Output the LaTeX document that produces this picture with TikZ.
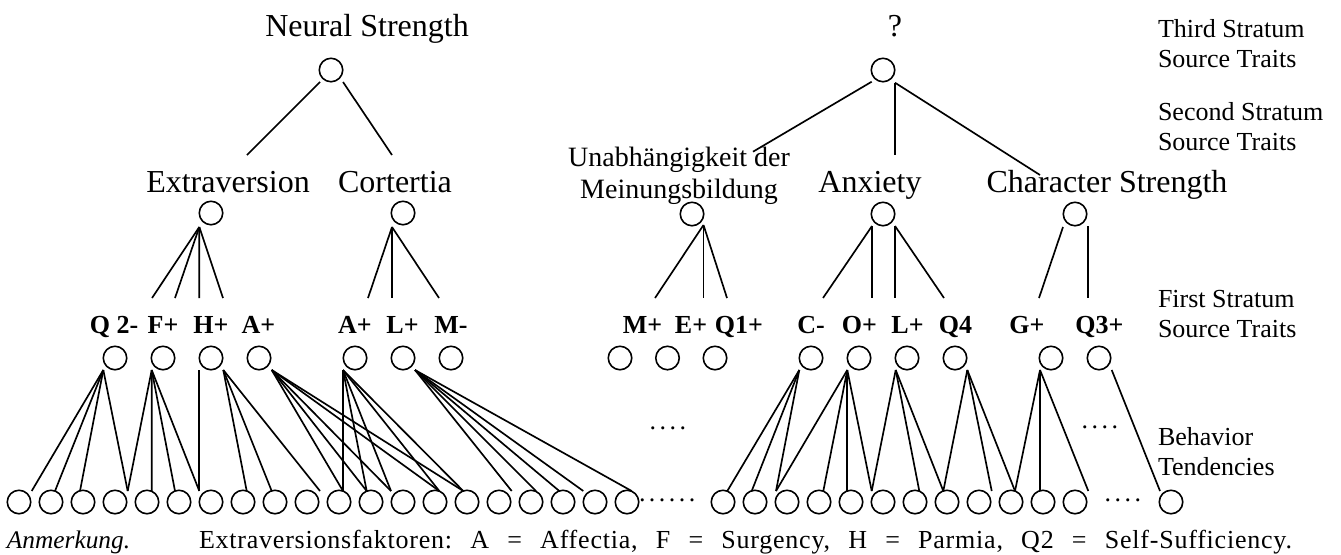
\documentclass[tikz,border=0pt]{standalone}
\usepackage{fontspec}
\setmainfont{Liberation Serif}
\newfontfamily\notefont[LetterSpace=3]{Liberation Serif}
\usetikzlibrary{calc}
% gap between the dots of an ellipsis row
\newcommand\dotgap{\kern2.6pt}
% draw lines from a foot point to behaviour circles: list of index/x-offset
\newcommand\fan[2]{\foreach \k/\dx in {#2}{\draw[link] (#1) -- ($(b\k)+(\dx,-11)$);}}
\begin{document}
\begin{tikzpicture}[x=0.75pt,y=-0.75pt,
  every node/.style={inner sep=0pt,outer sep=0pt},
  trait/.style={circle,draw,line width=1.2pt,minimum size=17.6pt},
  link/.style={line width=1.25pt},
  bigtxt/.style={font=\fontsize{24}{27}\selectfont,anchor=base},
  midtxt/.style={font=\fontsize{21}{23.8}\selectfont,align=center,anchor=base},
  sidetxt/.style={font=\fontsize{19.5}{22.4}\selectfont,align=left,anchor=base west},
  factxt/.style={font=\fontsize{19.5}{22}\selectfont\bfseries,anchor=base},
  dottxt/.style={font=\fontsize{19.5}{22}\selectfont,anchor=base west},
]
\useasboundingbox (0,0) rectangle (1341,554);

% ---------- third stratum ----------
\node[trait] (ns) at (331,70) {};
\node[bigtxt] (nsl) at (367,36) {Neural Strength};
\node[trait] (top) at (883,70) {};
\node[bigtxt] (topl) at (895,36) {?};

% ---------- second stratum ----------
\node[trait] (ex) at (211,213) {};
\node[bigtxt] (exl) at (228,192) {Extraversion};
\node[trait] (co) at (403,213) {};
\node[bigtxt] (col) at (395,192) {Cortertia};
\node[trait] (un) at (692,214) {};
% multi-line nodes sit on the baseline of their last line
\node[midtxt] (unl) at (679,198) {Unabhängigkeit der\\Meinungsbildung};
\node[trait] (an) at (883,214) {};
\node[bigtxt] (anl) at (870,192) {Anxiety};
\node[trait] (cs) at (1075,214) {};
\node[bigtxt] (csl) at (1107,192) {Character Strength};

% ---------- first stratum ----------
\foreach \n/\x/\lx/\t in {q2/115/114/Q 2-, fp/163/163/F+, hp/211/211/H+,
    ap1/259/258.5/A+, ap2/355/355/A+, lp1/403/402.5/L+, mm/451/451/M-,
    mp/620/642.5/M+, ep/667.5/691/E+, q1/715/739/Q1+,
    cm/811/811/C-, op/859/859.5/O+, lp2/907/907.5/L+, q4/955/955.5/Q4,
    gp/1051/1027/G+, q3/1099/1099.5/Q3+}{
  \node[trait] (\n) at (\x,358) {};
  \node[factxt] (\n l) at (\lx,333) {\t};
}

% ---------- behaviour tendencies ----------
\foreach \k in {0,...,19}{\node[trait] (b\k) at ({19+32*\k},502) {};}
\foreach \k in {22,...,33}{\node[trait] (b\k) at ({19+32*\k},502) {};}
\node[trait] (b36) at (1171,502) {};

% ---------- side captions ----------
\node[sidetxt] (s3) at (1158,67.6) {Third Stratum\\Source Traits};
\node[sidetxt] (s2) at (1158,150.7) {Second Stratum\\Source Traits};
\node[sidetxt] (s1) at (1158,337.7) {First Stratum\\Source Traits};
\node[sidetxt] (s0) at (1158,475) {Behavior\\Tendencies};

% ---------- ellipses ----------
\node[dottxt] (d1) at (639,501) {.\dotgap.\dotgap.\dotgap.\dotgap.\dotgap.};
\node[dottxt] (d2) at (649.7,429.5) {.\dotgap.\dotgap.\dotgap.};
\node[dottxt] (d3) at (1104.7,501) {.\dotgap.\dotgap.\dotgap.};
\node[dottxt] (d4) at (1081.7,428.5) {.\dotgap.\dotgap.\dotgap.};

% ---------- third -> second stratum ----------
\coordinate (nsfl) at ($(ns)+(-11,12)$);
\coordinate (nsfr) at ($(ns)+(12,12)$);
\coordinate (nse1) at (247,155);
\coordinate (nse2) at (392,155);
\draw[link] (nsfl) -- (nse1);
\draw[link] (nsfr) -- (nse2);
\coordinate (topfl) at ($(top)+(-11.3,11.7)$);
\coordinate (topfr) at ($(top)+(12,12.7)$);
\coordinate (tope1) at (753,151.7);
\coordinate (tope2) at (895,155);
\coordinate (tope3) at (1040,175);
\draw[link] (topfl) -- (tope1);
\draw[link] (topfr) -- (tope2);
\draw[link] (topfr) -- (tope3);

% ---------- second -> first stratum ----------
\coordinate (exf) at ($(ex)+(-11.7,14)$);
\foreach \x [count=\i] in {152,175,199.3,223}{
  \coordinate (exe\i) at (\x,298);
  \draw[link] (exf) -- (exe\i);
}
\coordinate (cof) at ($(co)+(-11,14)$);
\foreach \x [count=\i] in {368,392,439}{
  \coordinate (coe\i) at (\x,298);
  \draw[link] (cof) -- (coe\i);
}
\coordinate (unf) at ($(un)+(11.5,11)$);
\foreach \x [count=\i] in {655,703.5,727}{
  \coordinate (une\i) at (\x,298);
  \draw[link] (unf) -- (une\i);
}
\coordinate (anfl) at ($(an)+(-11,12)$);
\coordinate (anfr) at ($(an)+(12,12)$);
\foreach \x [count=\i] in {823,872}{
  \coordinate (anel\i) at (\x,298);
  \draw[link] (anfl) -- (anel\i);
}
\foreach \x [count=\i] in {895,944}{
  \coordinate (aner\i) at (\x,298);
  \draw[link] (anfr) -- (aner\i);
}
\coordinate (csfl) at ($(cs)+(-12,13)$);
\coordinate (csfr) at ($(cs)+(13,12)$);
\coordinate (csel) at (1039,298);
\coordinate (cser) at (1088,298);
\draw[link] (csfl) -- (csel);
\draw[link] (csfr) -- (cser);

% ---------- first stratum -> behaviour tendencies ----------
\coordinate (q2f) at ($(q2)+(-11.7,12)$);
\coordinate (fpf) at ($(fp)+(-11.3,12)$);
\coordinate (hpfl) at ($(hp)+(-11.7,12)$);
\coordinate (hpfr) at ($(hp)+(12.3,12)$);
\coordinate (ap1f) at ($(ap1)+(12.7,12)$);
\coordinate (ap2f) at ($(ap2)+(-12,12)$);
\coordinate (lp1f) at ($(lp1)+(12,12)$);
\coordinate (cmf) at ($(cm)+(-11.7,12)$);
\coordinate (opf) at ($(op)+(-11.7,12)$);
\coordinate (lp2f) at ($(lp2)+(-11.3,12)$);
\coordinate (q4f) at ($(q4)+(12.3,12)$);
\coordinate (gpf) at ($(gp)+(-11,12)$);
\coordinate (q3f) at ($(q3)+(12.7,12)$);

\fan{q2f}{0/12.7, 1/4, 2/-3, 3/12.7}
\fan{fpf}{3/12.7, 4/4.7, 5/-4, 6/-11.7}
\fan{hpfl}{6/-11.7}
\fan{hpfr}{7/3.7, 8/-3.3, 9/13}
\fan{ap1f}{10/4, 11/-4.3, 12/-12, 13/4.3, 14/-3.7}
\fan{ap2f}{10/4, 11/-4.3, 12/-12, 13/4.3, 14/-3.7}
\fan{lp1f}{15/12.7, 16/5, 17/-3.7, 18/-11.7, 19/4.7}
\fan{cmf}{22/4.3, 23/-3.3, 24/-11}
\fan{opf}{24/-11, 25/4.3, 26/-3.7, 27/-11.3}
\fan{lp2f}{27/-11.3, 28/4.3, 29/-3.7}
\fan{q4f}{29/-3.7, 30/12.7, 31/4}
\fan{gpf}{31/4, 32/-3, 33/13.3}
\fan{q3f}{36/-11}

% ---------- note ----------
\node[anchor=base west,font=\fontsize{19}{22}\selectfont\itshape] (note) at (7,548) {Anmerkung.};
\node[anchor=base west,font=\notefont\fontsize{19.5}{22}\selectfont] (notetext) at (199,548)
  {\hbox to 819.75pt{Extraversionsfaktoren:\hfill A\hfill =\hfill Affectia,\hfill F\hfill =\hfill Surgency,\hfill H\hfill =\hfill Parmia,\hfill Q2\hfill =\hfill Self-Sufficiency.}};
\end{tikzpicture}
\end{document}
